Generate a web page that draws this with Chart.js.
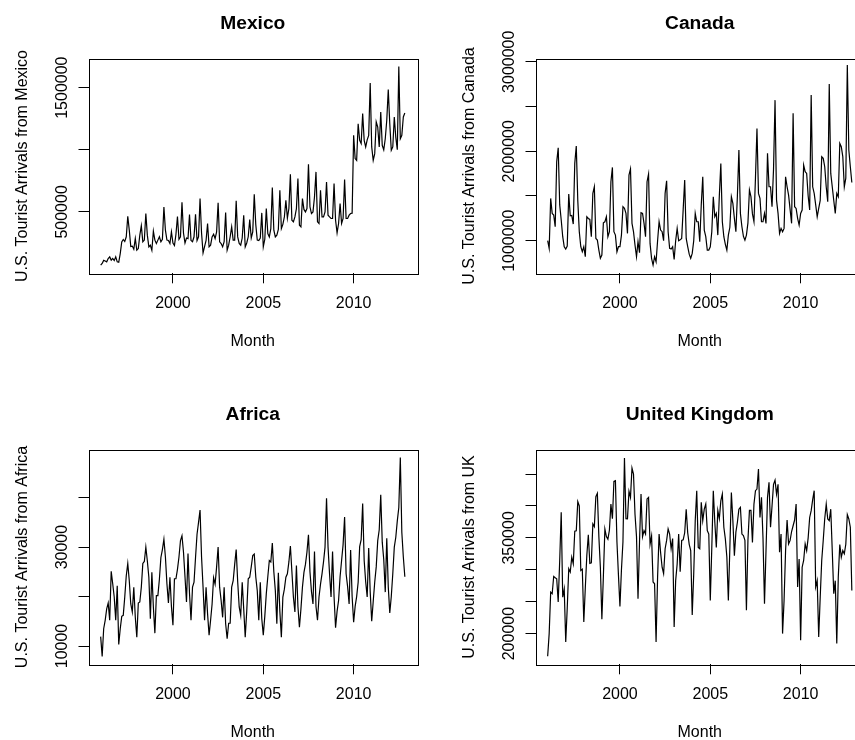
<!DOCTYPE html>
<html>
<head>
<meta charset="utf-8">
<script src="https://cdn.jsdelivr.net/npm/chart.js@4"></script>
<style>
  html, body { margin: 0; padding: 0; background: #fff; overflow: hidden; }
  body { width: 855px; height: 740px; position: relative; }
  canvas { position: absolute; }
</style>
</head>
<body>
<canvas id="mexico" width="448" height="391" style="left:0;top:0"></canvas>
<canvas id="canada" width="448" height="391" style="left:447px;top:0"></canvas>
<canvas id="africa" width="448" height="391" style="left:0;top:391px"></canvas>
<canvas id="uk" width="448" height="391" style="left:447px;top:391px"></canvas>
<script>
// monthly series, Jan 1996 .. Nov 2012
const START_YEAR = 1996;
const X_TICKS = [2000, 2005, 2010];

const mexico = [
  71000, 85000, 110000, 105000, 98000, 125000, 138000, 112000, 125000, 108000, 138000, 98000,
  95000, 165000, 259000, 278000, 262000, 300000, 465000, 353000, 222000, 225000, 200000, 286000,
  192000, 205000, 313000, 388000, 259000, 273000, 487000, 313000, 219000, 232000, 192000, 345000,
  273000, 246000, 273000, 300000, 259000, 280000, 540000, 353000, 273000, 270000, 246000, 340000,
  250000, 230000, 320000, 463000, 280000, 300000, 578000, 330000, 250000, 290000, 285000, 479000,
  270000, 260000, 300000, 481000, 270000, 300000, 608000, 330000, 170000, 220000, 270000, 406000,
  219000, 232000, 299000, 320000, 286000, 340000, 573000, 259000, 246000, 219000, 260000, 495000,
  192000, 232000, 300000, 380000, 273000, 273000, 589000, 299000, 246000, 232000, 290000, 473000,
  219000, 250000, 300000, 438000, 290000, 340000, 642000, 400000, 273000, 270000, 290000, 492000,
  219000, 280000, 527000, 326000, 299000, 366000, 696000, 353000, 299000, 313000, 360000, 674000,
  366000, 400000, 460000, 594000, 450000, 527000, 803000, 433000, 420000, 460000, 527000, 768000,
  393000, 380000, 607000, 520000, 500000, 527000, 883000, 540000, 487000, 500000, 620000, 822000,
  420000, 407000, 674000, 460000, 460000, 500000, 741000, 474000, 460000, 447000, 447000, 728000,
  433000, 331000, 407000, 567000, 407000, 447000, 760000, 447000, 447000, 474000, 487000, 490000,
  1116000, 929000, 915000, 1210000, 1076000, 1050000, 1291000, 1076000, 1023000, 1080000, 1116000, 1537000,
  1023000, 915000, 969000, 1224000, 1183000, 1023000, 1304000, 1036000, 1000000, 1089000, 1237000, 1484000,
  1210000, 996000, 1023000, 1264000, 1100000, 1001000, 1671000, 1089000, 1116000, 1264000, 1296000
];

const canada = [
  1000000, 914000, 1473000, 1305000, 1287000, 1156000, 1883000, 2039000, 1400000, 1231000, 1045000, 933000,
  907000, 940000, 1521000, 1279000, 1283000, 1186000, 1864000, 2058000, 1450000, 1101000, 933000, 877000,
  933000, 821000, 1268000, 1249000, 1238000, 1045000, 1529000, 1603000, 1026000, 1007000, 896000, 803000,
  840000, 1201000, 1212000, 1268000, 1045000, 1100000, 1659000, 1819000, 1101000, 1063000, 877000, 933000,
  933000, 1063000, 1380000, 1361000, 1305000, 1082000, 1733000, 1801000, 1194000, 1101000, 952000, 821000,
  989000, 866000, 1313000, 1305000, 1194000, 1045000, 1659000, 1745000, 970000, 803000, 728000, 821000,
  765000, 1000000, 1212000, 1119000, 1101000, 1000000, 1529000, 1670000, 1101000, 914000, 907000, 933000,
  790000, 1000000, 1138000, 1000000, 1010000, 1026000, 1350000, 1678000, 1026000, 933000, 850000, 803000,
  858000, 1000000, 1305000, 1212000, 1212000, 989000, 1400000, 1715000, 1119000, 1045000, 896000, 896000,
  933000, 1100000, 1492000, 1268000, 1305000, 1063000, 1500000, 1864000, 1212000, 1045000, 960000, 896000,
  1063000, 1150000, 1492000, 1417000, 1250000, 1101000, 1500000, 2013000, 1305000, 1156000, 1050000, 1007000,
  1063000, 1200000, 1566000, 1492000, 1300000, 1212000, 1700000, 2255000, 1529000, 1473000, 1212000, 1212000,
  1305000, 1194000, 1976000, 1603000, 1603000, 1380000, 1800000, 2571000, 1454000, 1305000, 1082000, 1138000,
  1100000, 1138000, 1715000, 1603000, 1510000, 1350000, 1194000, 2423000, 1380000, 1361000, 1250000, 1175000,
  1305000, 1343000, 1845000, 1771000, 1752000, 1500000, 1343000, 2627000, 1603000, 1529000, 1400000, 1268000,
  1361000, 1450000, 1938000, 1920000, 1827000, 1600000, 1436000, 2750000, 1752000, 1603000, 1450000, 1305000,
  1529000, 1492000, 2087000, 2050000, 1940000, 1603000, 1700000, 2963000, 2013000, 1827000, 1650000
];

const africa = [
  11900, 7900, 13500, 15200, 17500, 18700, 15200, 25100, 22600, 19900, 15200, 22200,
  10300, 13500, 16000, 16200, 19900, 24200, 26700, 23200, 18500, 16900, 21900, 15800,
  11800, 18700, 18900, 21900, 26700, 27100, 30000, 27200, 23900, 15500, 24900, 17900,
  12600, 20200, 20200, 23500, 27900, 29500, 31600, 28000, 22600, 18700, 23900, 18000,
  14200, 23600, 23600, 25500, 28000, 31300, 32300, 29000, 24000, 18900, 28700, 20600,
  15200, 21900, 22900, 27900, 32600, 35000, 37500, 28000, 21900, 15200, 21900, 16500,
  12200, 15200, 18500, 23800, 22500, 26000, 30000, 21900, 19200, 15800, 21900, 14500,
  11500, 14600, 14600, 21900, 23200, 26500, 29500, 23000, 17900, 16200, 22900, 17500,
  11800, 17000, 23600, 23900, 26000, 28300, 28600, 24000, 21200, 15200, 22900, 15500,
  12200, 16000, 20600, 24000, 27300, 27000, 30800, 25000, 21200, 14500, 24800, 17000,
  11800, 19900, 21500, 23900, 24600, 27000, 30200, 25000, 19900, 16900, 26300, 18000,
  13800, 17500, 21900, 24900, 26500, 29000, 32500, 25000, 21000, 18500, 29100, 18000,
  15200, 19900, 22500, 24600, 27000, 30000, 39900, 30000, 24600, 19900, 29100, 20000,
  13700, 17000, 19200, 24000, 27300, 30500, 36100, 24600, 22000, 18500, 29400, 20000,
  14800, 18000, 20000, 22900, 30100, 31500, 38800, 27300, 23000, 19900, 29800, 21000,
  15000, 19000, 22900, 26000, 31300, 33500, 40600, 31000, 27500, 20900, 31800, 22000,
  16700, 20000, 24600, 30000, 32000, 35300, 38000, 48100, 33000, 28000, 24000
];

const uk = [
  164600, 200000, 265000, 262500, 289600, 287500, 286000, 249500, 314600, 390000, 257000, 270000,
  187000, 240000, 301600, 296400, 319800, 309400, 360400, 361000, 406800, 400000, 299000, 301000,
  218200, 272000, 322400, 355000, 310000, 311000, 371900, 367700, 414600, 419800, 352000, 304000,
  222400, 290000, 364000, 352000, 348000, 362000, 403000, 380000, 438500, 439600, 344000, 292000,
  242700, 300000, 344000, 475000, 380000, 379700, 423000, 413500, 459400, 450000, 387000, 352000,
  254700, 344000, 418700, 352000, 361500, 356000, 411000, 413500, 340000, 353000, 281000, 278000,
  187000, 288500, 356000, 327000, 304000, 294000, 333000, 346000, 364000, 356000, 333000, 349000,
  210400, 283000, 309000, 356000, 297000, 346000, 347000, 358000, 395000, 358000, 340000, 330000,
  229000, 293700, 377000, 424000, 335000, 333000, 405700, 377000, 395000, 403000, 361500, 356000,
  252000, 335000, 424000, 374500, 335000, 393000, 380000, 408000, 418700, 366700, 348400, 320000,
  252000, 335000, 421000, 377000, 322000, 359000, 374500, 395000, 398000, 356000, 353600, 346000,
  236500, 346000, 393000, 393000, 343000, 403000, 424000, 426500, 457800, 382000, 413500, 350000,
  247000, 330000, 413500, 437000, 366700, 400000, 434000, 440600, 418700, 434000, 327600, 356000,
  200000, 252000, 330000, 378000, 340600, 346000, 360000, 369000, 378000, 403000, 273000, 317000,
  189600, 304000, 314600, 340600, 330000, 350000, 382000, 392700, 410000, 424000, 273000, 283000,
  194800, 257000, 314600, 346000, 380000, 403000, 379700, 377000, 395000, 330000, 262500, 283000,
  184400, 288500, 339600, 319800, 330000, 325000, 340000, 386400, 379700, 366700, 267700
];

// y-axis tick marks and the ones that carry a label
const mexicoTicks = [500000, 1000000, 1500000];
const mexicoLabels = [500000, 1500000];
const canadaTicks = [1000000, 1500000, 2000000, 2500000, 3000000];
const canadaLabels = [1000000, 2000000, 3000000];
const africaTicks = [10000, 20000, 30000, 40000];
const africaLabels = [10000, 30000];
const ukTicks = [200000, 250000, 300000, 350000, 400000, 450000];
const ukLabels = [200000, 350000];

const FONT = '"Liberation Sans", Arial, Helvetica, sans-serif';
const PANEL_W = 448;
const PANEL_H = 391;
const X_AXIS_H = 45;
const AREA = { left: 88.5, top: 58.7, right: 417, bottom: 273.3 };

// draws the R-style frame, titles and rotated y labels
const baseDecor = {
  id: 'baseDecor',
  afterDraw(chart, args, opts) {
    const { ctx, chartArea: a } = chart;
    const y = chart.scales.y;
    ctx.save();
    ctx.strokeStyle = '#000';
    ctx.lineWidth = 1;
    ctx.strokeRect(Math.round(a.left) + 0.5, Math.round(a.top) + 0.5,
      Math.round(a.right - a.left), Math.round(a.bottom - a.top));

    ctx.fillStyle = '#000';
    ctx.textAlign = 'center';
    ctx.textBaseline = 'alphabetic';
    const cx = (a.left + a.right) / 2;
    ctx.font = `bold 19.2px ${FONT}`;
    ctx.fillText(opts.title, cx, a.top - 30);
    ctx.font = `16px ${FONT}`;
    ctx.fillText('Month', cx, a.bottom + 72.5);

    y.ticks.forEach((t) => {
      if (!opts.labeled.includes(t.value)) return;
      ctx.save();
      ctx.translate(a.left - 21.6, y.getPixelForValue(t.value));
      ctx.rotate(-Math.PI / 2);
      ctx.fillText(String(t.value), 0, 0);
      ctx.restore();
    });

    ctx.save();
    ctx.translate(27.3, (a.top + a.bottom) / 2);
    ctx.rotate(-Math.PI / 2);
    ctx.fillText(opts.yTitle, 0, 0);
    ctx.restore();
    ctx.restore();
  },
};

function tickGrid() {
  return {
    display: true,
    drawOnChartArea: false,
    drawTicks: true,
    tickLength: 10,
    tickWidth: 1,
    tickColor: '#000',
  };
}

function makePanel(id, cfg) {
  const n = cfg.values.length;
  const span = (n - 1) / 12;
  const xMin = START_YEAR - span * 0.04;
  const xMax = START_YEAR + span * 1.04;
  const points = cfg.values.map((v, i) => ({ x: START_YEAR + i / 12, y: v }));

  return new Chart(document.getElementById(id), {
    type: 'line',
    data: {
      datasets: [{
        data: points,
        borderColor: '#000',
        borderWidth: 1.2,
        pointRadius: 0,
        tension: 0,
        fill: false,
      }],
    },
    options: {
      responsive: false,
      devicePixelRatio: 1,
      animation: false,
      events: [],
      parsing: false,
      layout: {
        padding: {
          left: AREA.left,
          top: AREA.top,
          right: PANEL_W - AREA.right,
          bottom: PANEL_H - AREA.bottom - X_AXIS_H,
        },
      },
      scales: {
        x: {
          type: 'linear',
          min: xMin,
          max: xMax,
          afterBuildTicks: (s) => { s.ticks = X_TICKS.map((v) => ({ value: v })); },
          afterFit: (s) => { s.height = X_AXIS_H; },
          grid: tickGrid(),
          border: { display: false },
          ticks: {
            color: '#000',
            font: { family: FONT, size: 16 },
            padding: 11,
            maxRotation: 0,
            autoSkip: false,
            callback: (v) => String(v),
          },
        },
        y: {
          type: 'linear',
          min: cfg.yMin,
          max: cfg.yMax,
          afterBuildTicks: (s) => { s.ticks = cfg.yTicks.map((v) => ({ value: v })); },
          afterFit: (s) => { s.width = 0; },
          grid: tickGrid(),
          border: { display: false },
          ticks: { display: false },
        },
      },
      plugins: {
        legend: { display: false },
        tooltip: { enabled: false },
        baseDecor: { title: cfg.title, yTitle: cfg.yTitle, labeled: cfg.yLabeled },
      },
    },
    plugins: [baseDecor],
  });
}

makePanel('mexico', {
  title: 'Mexico',
  yTitle: 'U.S. Tourist Arrivals from Mexico',
  values: mexico,
  yMin: 6000, yMax: 1733000,
  yTicks: mexicoTicks, yLabeled: mexicoLabels,
});
makePanel('canada', {
  title: 'Canada',
  yTitle: 'U.S. Tourist Arrivals from Canada',
  values: canada,
  yMin: 636000, yMax: 3034000,
  yTicks: canadaTicks, yLabeled: canadaLabels,
});
makePanel('africa', {
  title: 'Africa',
  yTitle: 'U.S. Tourist Arrivals from Africa',
  values: africa,
  yMin: 6300, yMax: 49700,
  yTicks: africaTicks, yLabeled: africaLabels,
});
makePanel('uk', {
  title: 'United Kingdom',
  yTitle: 'U.S. Tourist Arrivals from UK',
  values: uk,
  yMin: 151900, yMax: 488200,
  yTicks: ukTicks, yLabeled: ukLabels,
});
</script>
</body>
</html>
